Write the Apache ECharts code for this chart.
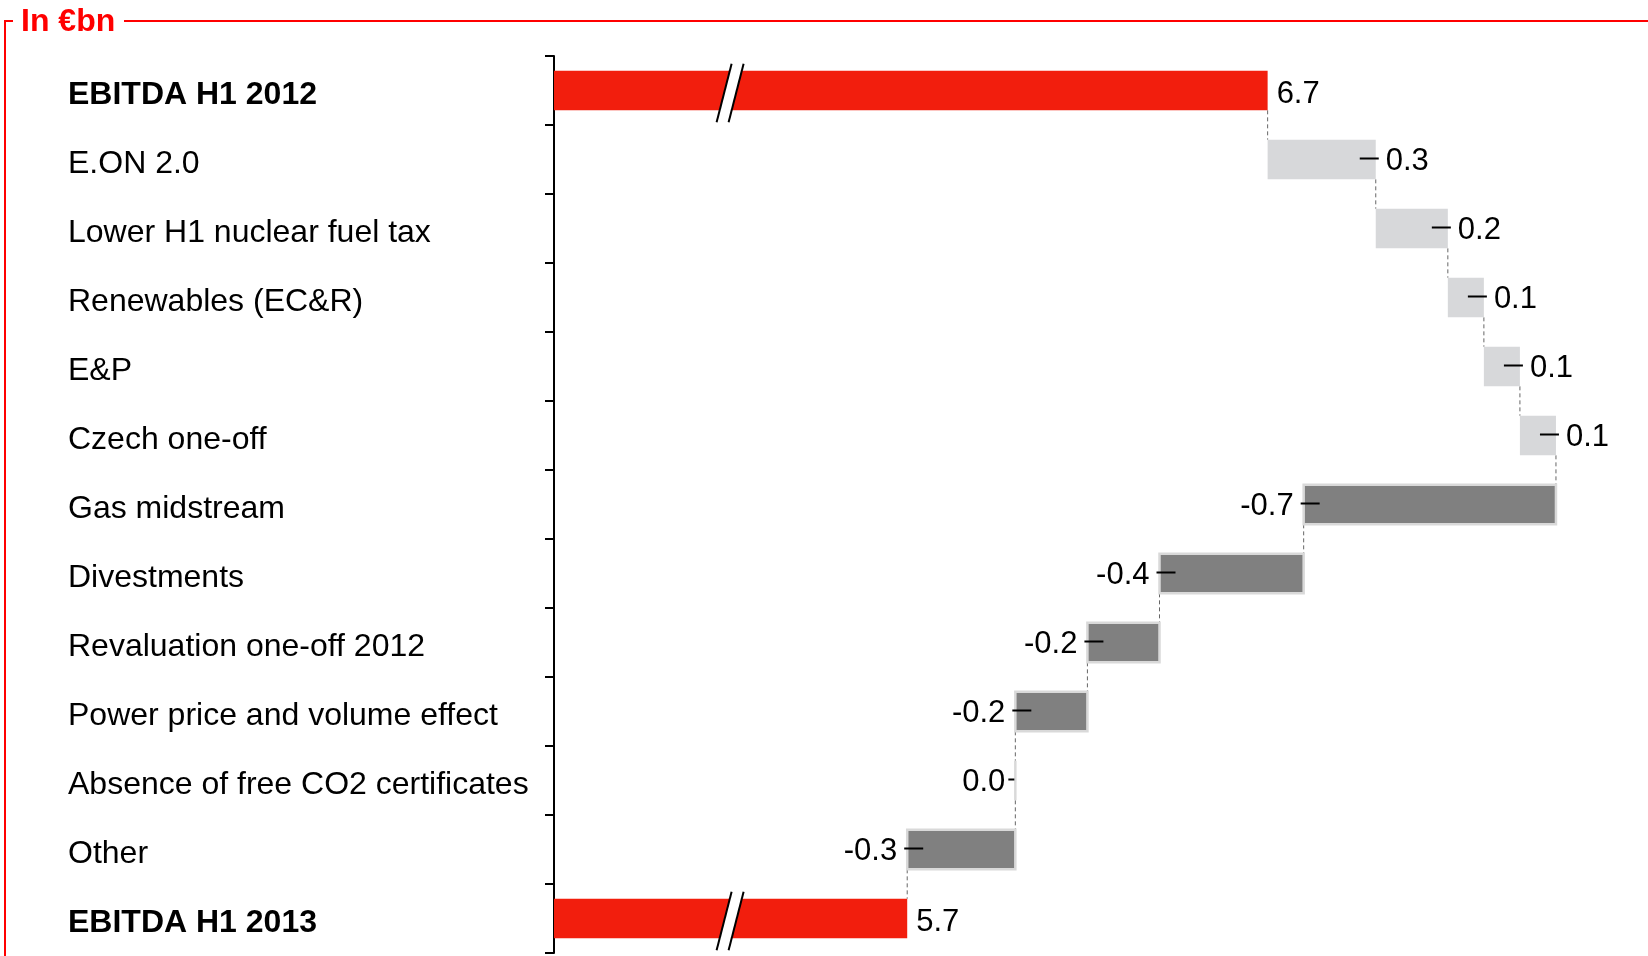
<!DOCTYPE html>
<html><head><meta charset="utf-8">
<script src="https://cdn.jsdelivr.net/npm/echarts@6/dist/echarts.min.js"></script>
<style>html,body{margin:0;padding:0;background:#fff;}#c{width:1648px;height:956px;}</style>
</head><body><div id="c"></div>
<script>
const categories = ['EBITDA H1 2012','E.ON 2.0','Lower H1 nuclear fuel tax','Renewables (EC&R)','E&P','Czech one-off','Gas midstream','Divestments','Revaluation one-off 2012','Power price and volume effect','Absence of free CO2 certificates','Other','EBITDA H1 2013'];
const values = [6.7, 0.3, 0.2, 0.1, 0.1, 0.1, -0.7, -0.4, -0.2, -0.2, 0.0, -0.3, 5.7];
const isTotal = [true, false, false, false, false, false, false, false, false, false, false, false, true];
const labels = ['6.7','0.3','0.2','0.1','0.1','0.1','-0.7','-0.4','-0.2','-0.2','0.0','-0.3','5.7'];

const AXIS_MIN = 4.72, AXIS_MAX = 7.6, BREAK_AT = 5.21;
const RED = '#f21e0d', LIGHT = '#d7d8da', DARK = '#808080', BORDER = '#d9d9d9';
const FONT = '"Liberation Sans", Arial, sans-serif';

let run = 0;
const data = values.map((v, i) => {
  let s, e;
  if (isTotal[i]) { s = AXIS_MIN; e = v; run = v; }
  else { s = run; e = run + v; run = e; }
  return [i, s, e, v, isTotal[i] ? 1 : 0];
});
const n = data.length;

function renderItem(params, api) {
  const i = api.value(0), s = api.value(1), e = api.value(2), v = api.value(3), tot = api.value(4);
  const p0 = api.coord([s, i]), p1 = api.coord([e, i]);
  const band = api.size([0, 1])[1];
  const h = band * 0.575;
  const cy = p0[1];
  const x0 = Math.min(p0[0], p1[0]), w = Math.abs(p1[0] - p0[0]);
  const ch = [];
  let style;
  if (tot) style = { fill: RED };
  else if (v > 0) style = { fill: LIGHT };
  else style = { fill: DARK, stroke: BORDER, lineWidth: 2.5 };
  if (i < n - 1) {
    const ny = api.coord([e, i + 1])[1];
    ch.push({ type: 'line', shape: { x1: p1[0], y1: cy + h / 2, x2: p1[0], y2: ny - h / 2 },
      style: { stroke: '#666', lineWidth: 1, lineDash: [4, 3] } });
  }
  ch.push({ type: 'rect', shape: { x: x0, y: cy - h / 2, width: w, height: h }, style: style });
  const ly = cy - 1;
  const ty = cy + (tot ? 4 : 2);
  const txtStyle = (x, align) => ({ text: labels[i], x: x, y: ty, font: '31px ' + FONT, fill: '#000',
    align: align, textAlign: align, verticalAlign: 'middle', textVerticalAlign: 'middle' });
  if (tot) {
    ch.push({ type: 'text', style: txtStyle(p1[0] + 9, 'left') });
    const bx = api.coord([BREAK_AT, i])[0];
    const t = cy - h / 2 - 7, b = cy + h / 2 + 12;
    ch.push({ type: 'polygon', shape: { points: [[bx - 14, b], [bx + 1, t], [bx + 13, t], [bx - 2, b]] },
      style: { fill: '#fff' } });
    ch.push({ type: 'line', shape: { x1: bx - 14, y1: b, x2: bx + 1, y2: t }, style: { stroke: '#000', lineWidth: 2 } });
    ch.push({ type: 'line', shape: { x1: bx - 2, y1: b, x2: bx + 13, y2: t }, style: { stroke: '#000', lineWidth: 2 } });
  } else if (v > 0) {
    ch.push({ type: 'line', shape: { x1: p1[0] - 16, y1: ly, x2: p1[0] + 3, y2: ly }, style: { stroke: '#000', lineWidth: 2 } });
    ch.push({ type: 'text', style: txtStyle(p1[0] + 10, 'left') });
  } else if (v < 0) {
    ch.push({ type: 'line', shape: { x1: p1[0] - 3, y1: ly, x2: p1[0] + 16, y2: ly }, style: { stroke: '#000', lineWidth: 2 } });
    ch.push({ type: 'text', style: txtStyle(p1[0] - 10, 'right') });
  } else {
    ch.push({ type: 'line', shape: { x1: p1[0] - 7, y1: ly, x2: p1[0] - 1, y2: ly }, style: { stroke: '#000', lineWidth: 2 } });
    ch.push({ type: 'text', style: txtStyle(p1[0] - 10, 'right') });
  }
  return { type: 'group', children: ch };
}

const chart = echarts.init(document.getElementById('c'));
chart.setOption({
  animation: false,
  backgroundColor: '#fff',
  grid: { left: 554, right: 56, top: 56, bottom: 3 },
  xAxis: { type: 'value', min: AXIS_MIN, max: AXIS_MAX, show: false },
  yAxis: {
    type: 'category', data: categories, inverse: true,
    axisLine: { show: true, lineStyle: { color: '#000', width: 2 } },
    axisTick: { show: true, inside: false, length: 9, lineStyle: { color: '#000', width: 2 } },
    axisLabel: {
      align: 'left', margin: 486, padding: [10, 0, 0, 0],
      fontFamily: FONT, fontSize: 32, color: '#000',
      formatter: (val, idx) => isTotal[idx] ? '{b|' + val + '}' : val,
      rich: { b: { fontFamily: FONT, fontSize: 32, fontWeight: 'bold', color: '#000' } }
    },
    splitLine: { show: false }
  },
  graphic: [
    { type: 'line', shape: { x1: 5, y1: 21, x2: 13, y2: 21 }, style: { stroke: '#ff0000', lineWidth: 2 } },
    { type: 'line', shape: { x1: 5, y1: 20, x2: 5, y2: 956 }, style: { stroke: '#ff0000', lineWidth: 2 } },
    { type: 'line', shape: { x1: 124, y1: 21, x2: 1648, y2: 21 }, style: { stroke: '#ff0000', lineWidth: 2 } },
    { type: 'text', x: 21, y: 22, style: { text: 'In €bn', font: 'bold 32px ' + FONT, fill: '#ff0000',
      align: 'left', textAlign: 'left', verticalAlign: 'middle', textVerticalAlign: 'middle' } }
  ],
  series: [{
    type: 'custom', renderItem: renderItem, data: data,
    encode: { x: [1, 2], y: 0 }, clip: false
  }]
});
</script>
</body></html>
